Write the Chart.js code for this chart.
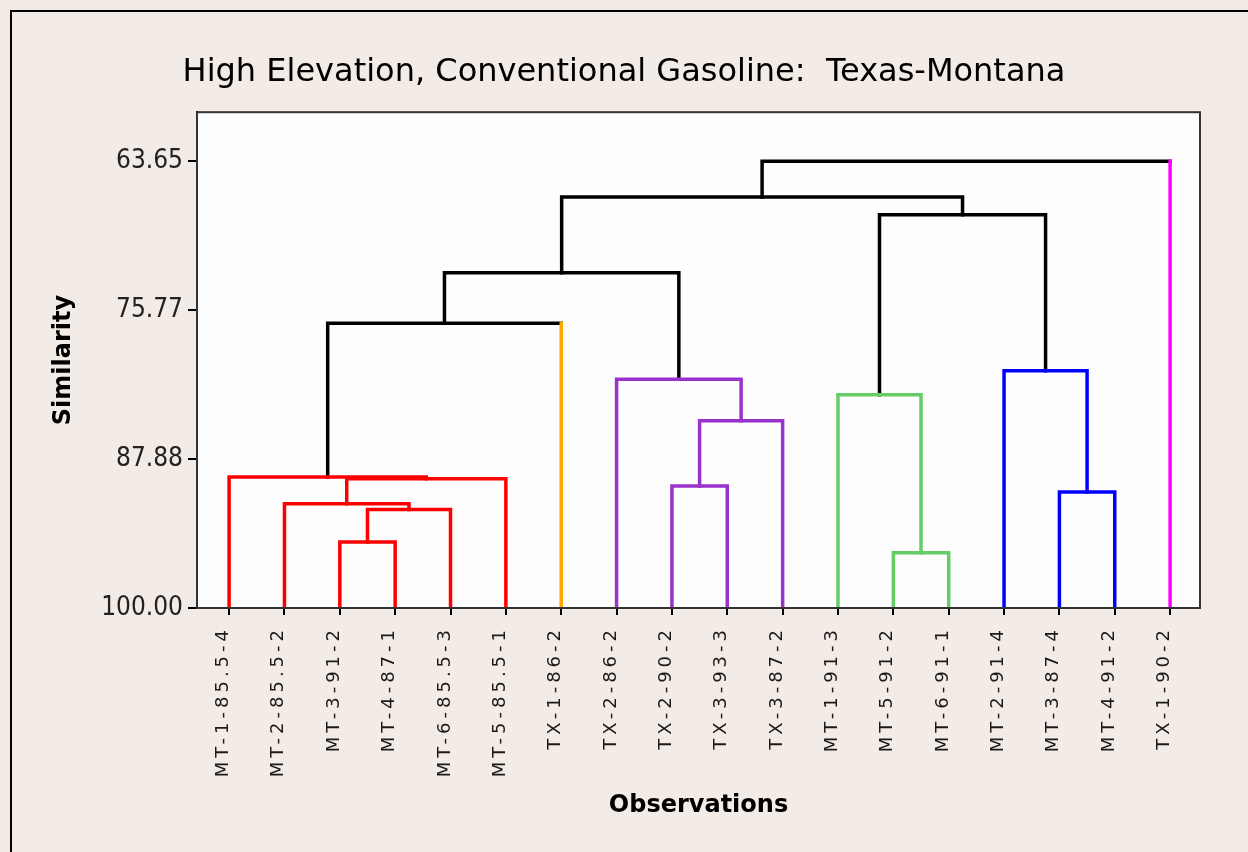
<!DOCTYPE html>
<html>
<head>
<meta charset="utf-8">
<title>High Elevation, Conventional Gasoline: Texas-Montana</title>
<script src="https://cdn.jsdelivr.net/npm/chart.js@4.4.1/dist/chart.umd.min.js"></script>
<style>
    html, body { margin: 0; padding: 0; background: #f3ebe5; }
    #chart { display: block; }
</style>
</head>
<body>
<canvas id="chart" width="1248" height="852"></canvas>
<script>
// Observations, in dendrogram order
const leafLabels = ['MT-1-85.5-4', 'MT-2-85.5-2', 'MT-3-91-2', 'MT-4-87-1', 'MT-6-85.5-3', 'MT-5-85.5-1',
    'TX-1-86-2', 'TX-2-86-2', 'TX-2-90-2', 'TX-3-93-3', 'TX-3-87-2', 'MT-1-91-3', 'MT-5-91-2',
    'MT-6-91-1', 'MT-2-91-4', 'MT-3-87-4', 'MT-4-91-2', 'TX-1-90-2'];
const leafCluster = [0, 0, 0, 0, 0, 0, 1, 2, 2, 2, 2, 3, 3, 3, 4, 4, 4, 5];
const clusterColors = ['#ff0000', '#ffa500', '#9933cc', '#66cc66', '#0000ff', '#ff00ff'];

// Joins: nodes 0-17 are the leaves, join k makes node 18 + k
const joinLeft = [2, 18, 1, 20, 0, 12, 8, 15, 24, 7, 11, 14, 22, 30, 28, 31, 33];
const joinRight = [3, 4, 19, 5, 21, 13, 9, 16, 10, 26, 23, 25, 6, 27, 29, 32, 17];
const joinSimilarity = [94.64, 91.98, 91.52, 89.48, 89.34, 95.51, 90.08, 90.57, 84.77,
    81.38, 82.65, 80.70, 76.84, 72.73, 68.00, 66.56, 63.65];

const similarityTicks = [63.65, 75.77, 87.88, 100.00];

// Position and height of every node
const nodeX = leafLabels.map((_, i) => i);
const nodeY = leafLabels.map(() => 100);
const nodeCluster = leafCluster.slice();

const datasets = joinLeft.map((a, k) => {
    const b = joinRight[k];
    const h = joinSimilarity[k];
    const cluster = nodeCluster[a] === nodeCluster[b] ? nodeCluster[a] : -1;
    const joinColor = cluster >= 0 ? clusterColors[cluster] : '#000000';
    const legColor = n => n < leafLabels.length ? clusterColors[leafCluster[n]] : joinColor;
    const segColors = [legColor(a), joinColor, legColor(b)];
    const data = [
        { x: nodeX[a], y: nodeY[a] },
        { x: nodeX[a], y: h },
        { x: nodeX[b], y: h },
        { x: nodeX[b], y: nodeY[b] }
    ];
    nodeX.push((nodeX[a] + nodeX[b]) / 2);
    nodeY.push(h);
    nodeCluster.push(cluster);
    return {
        data: data,
        showLine: true,
        pointRadius: 0,
        borderWidth: 3.5,
        borderColor: joinColor,
        borderCapStyle: 'square',
        borderJoinStyle: 'miter',
        clip: 0,
        segment: {
            borderColor: c => segColors[c.p0DataIndex]
        }
    };
});

// Beige page, outer frame and white plot area
const framePlugin = {
    id: 'frame',
    beforeDraw(chart) {
        const { ctx, chartArea: a } = chart;
        ctx.save();
        ctx.fillStyle = '#f3ebe5';
        ctx.fillRect(0, 0, chart.width, chart.height);
        ctx.fillStyle = '#fdfdfd';
        ctx.fillRect(a.left, a.top, a.right - a.left, a.bottom - a.top);
        ctx.strokeStyle = '#000000';
        ctx.lineWidth = 2;
        ctx.beginPath();
        ctx.moveTo(11, chart.height);
        ctx.lineTo(11, 11);
        ctx.lineTo(chart.width, 11);
        ctx.stroke();
        ctx.restore();
    },
    afterDatasetsDraw(chart) {
        const { ctx, chartArea: a } = chart;
        ctx.save();
        ctx.strokeStyle = '#333333';
        ctx.lineWidth = 2;
        ctx.strokeRect(a.left, a.top, a.right - a.left, a.bottom - a.top);
        ctx.restore();
    }
};

// Vertical observation names under the x axis
const leafLabelPlugin = {
    id: 'leafLabels',
    afterDraw(chart) {
        const ctx = chart.ctx;
        const xScale = chart.scales.x;
        ctx.save();
        ctx.font = '18px "DejaVu Sans"';
        ctx.fillStyle = '#1a1a1a';
        ctx.letterSpacing = '4px';
        ctx.textAlign = 'right';
        ctx.textBaseline = 'alphabetic';
        leafLabels.forEach((label, i) => {
            ctx.save();
            ctx.translate(xScale.getPixelForValue(i) - 1, xScale.top + 18);
            ctx.rotate(-Math.PI / 2);
            ctx.fillText(label, 0, 0);
            ctx.restore();
        });
        ctx.restore();
    }
};

new Chart(document.getElementById('chart'), {
    type: 'scatter',
    data: { datasets: datasets },
    plugins: [framePlugin, leafLabelPlugin],
    options: {
        responsive: false,
        animation: false,
        devicePixelRatio: 1,
        layout: { padding: { left: 48, right: 48, top: 0, bottom: 0 } },
        plugins: {
            legend: { display: false },
            tooltip: { enabled: false },
            title: {
                display: true,
                text: 'High Elevation, Conventional Gasoline:  Texas-Montana',
                color: '#000000',
                font: { family: 'DejaVu Sans', size: 32, weight: 'normal', lineHeight: 1.1 },
                padding: { top: 55, bottom: 22 }
            }
        },
        scales: {
            x: {
                type: 'linear',
                min: -0.58,
                max: 17.54,
                afterBuildTicks: s => { s.ticks = leafLabels.map((_, i) => ({ value: i })); },
                afterFit: s => { s.height = 244; },
                ticks: { display: false },
                grid: { drawOnChartArea: false, drawTicks: true, tickLength: 7, color: '#000000', lineWidth: 2 },
                border: { display: true, color: '#000000', width: 2 },
                title: {
                    display: true,
                    text: 'Observations',
                    color: '#000000',
                    font: { family: 'DejaVu Sans', size: 24, weight: 'bold' },
                    padding: { top: 0, bottom: 32 }
                }
            },
            y: {
                type: 'linear',
                reverse: true,
                min: 59.66,
                max: 100,
                afterBuildTicks: s => { s.ticks = similarityTicks.map(v => ({ value: v })); },
                afterFit: s => { s.width = 149; },
                ticks: {
                    callback: v => v.toFixed(2),
                    color: '#222222',
                    padding: 5,
                    font: { family: 'DejaVu Sans Condensed', size: 26 }
                },
                grid: { drawOnChartArea: false, drawTicks: true, tickLength: 9, color: '#000000', lineWidth: 2 },
                border: { display: true, color: '#000000', width: 2 },
                title: {
                    display: true,
                    text: 'Similarity',
                    color: '#000000',
                    font: { family: 'DejaVu Sans', size: 24, weight: 'bold' },
                    padding: { top: 1, bottom: 0 }
                }
            }
        }
    }
});
</script>
</body>
</html>
